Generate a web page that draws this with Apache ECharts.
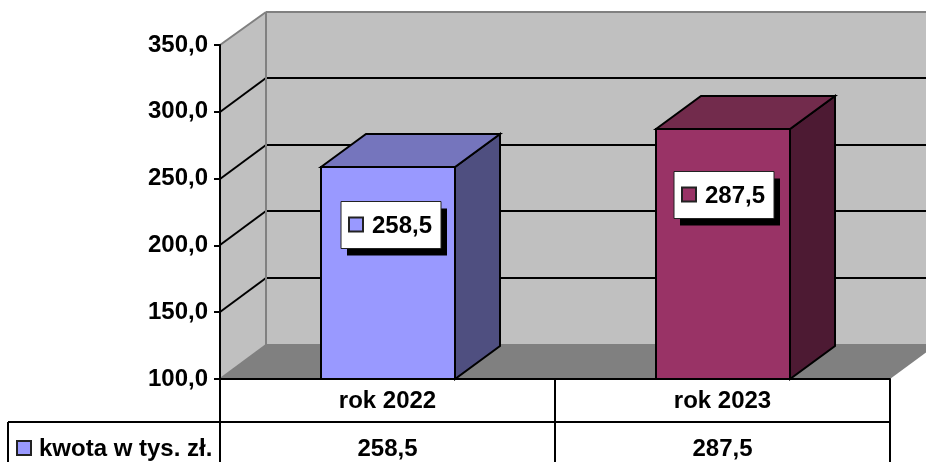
<!DOCTYPE html>
<html>
<head>
<meta charset="utf-8">
<style>html,body{margin:0;padding:0;background:#fff;overflow:hidden}#c{width:926px;height:462px}</style>
<script src="https://cdn.jsdelivr.net/npm/echarts@6/dist/echarts.min.js"></script>
</head>
<body>
<div id="c"></div>
<script>
var categories = ['rok 2022', 'rok 2023'];
var seriesName = 'kwota w tys. zł.';
var values = [258.5, 287.5];
var valueTicks = [100, 150, 200, 250, 300, 350];

var frontColors = ['#9999FF', '#993366'];
var topColors = ['#7575BD', '#722B4C'];
var sideColors = ['#4F4F80', '#4D1A33'];
var labelShiftX = [3, 1];
var labelShiftY = [1, -1];

var FONT = '"Liberation Sans", Arial, sans-serif';
var FS = 24;
var DX = 46, DY = 33, DYF = 34;
var BAR_W = 134;
var fmt = function (v) { return v.toFixed(1).replace('.', ','); };
var chart = echarts.init(document.getElementById('c'), null, { renderer: 'canvas' });

function poly(points, fill, stroke, w) {
  return { type: 'polygon', shape: { points: points }, style: { fill: fill, stroke: stroke || null, lineWidth: w || 0, lineJoin: 'miter' } };
}
function line(x1, y1, x2, y2, stroke, w) {
  return { type: 'line', shape: { x1: x1, y1: y1, x2: x2, y2: y2 }, style: { stroke: stroke, lineWidth: w, fill: null } };
}
function rect(x, y, w, h, fill, stroke, lw) {
  return { type: 'rect', shape: { x: x, y: y, width: w, height: h }, style: { fill: fill, stroke: stroke || null, lineWidth: lw || 0 } };
}
function text(x, y, s, align) {
  return { type: 'text', x: x, y: y, style: { text: s, fill: '#000', font: 'bold ' + FS + 'px ' + FONT, align: align, verticalAlign: 'middle' } };
}

function renderFrame(params, api) {
  var cs = params.coordSys;
  var L = cs.x, R = cs.x + cs.width, T = cs.y, B = cs.y + cs.height;
  var gray = '#808080', wall = '#C0C0C0';
  var kids = [
    poly([[L + DX, T - DY], [R + DX, T - DY], [R + DX, B - DYF], [L + DX, B - DYF]], wall),
    poly([[L, T], [L + DX, T - DY], [L + DX, B - DYF], [L, B]], wall),
    poly([[L, B], [L + DX, B - DYF], [R + DX, B - DYF], [R, B]], gray)
  ];
  valueTicks.forEach(function (t) {
    if (t === valueTicks[0] || t === valueTicks[valueTicks.length - 1]) return;
    var y = Math.round(api.coord([0, t])[1]);
    kids.push(line(L, y, L + DX, y - DYF, '#000', 2));
    kids.push(line(L + DX, y - DYF, R + DX, y - DYF, '#000', 2));
  });
  kids.push(line(L, T, L + DX, T - DY, gray, 2));
  kids.push(line(L + DX, T - DY, R + DX, T - DY, gray, 2));
  kids.push(line(L + DX, T - DY, L + DX, B - DYF, gray, 2));
  kids.push(line(L, B, L + DX, B - DYF, gray, 2));
  kids.push(line(L + DX, B - DYF, R + DX, B - DYF, gray, 2));
  return { type: 'group', children: kids };
}

function renderBar(params, api) {
  var i = api.value(0), v = api.value(1);
  var c = api.coord([i, v]), b = api.coord([i, valueTicks[0]]);
  var x0 = Math.round(c[0] - BAR_W / 2), x1 = x0 + BAR_W;
  var yt = Math.round(c[1]), yb = Math.round(b[1]);
  var dx = DX - 1;
  var kids = [
    poly([[x1, yt], [x1 + dx, yt - DY], [x1 + dx, yb - DY], [x1, yb]], sideColors[i], '#000', 2),
    poly([[x0, yt], [x0 + dx, yt - DY], [x1 + dx, yt - DY], [x1, yt]], topColors[i], '#000', 2),
    rect(x0, yt, BAR_W, yb - yt, frontColors[i], '#000', 2)
  ];
  return { type: 'group', children: kids };
}

function renderLabel(params, api) {
  var i = api.value(0), v = api.value(1);
  var base = valueTicks[0];
  var p = api.coord([i, base + (v - base) * 0.73]);
  var cx = Math.round(p[0]) + labelShiftX[i], cy = Math.round(p[1]) + labelShiftY[i];
  var bw = 100, bh = 47, x = cx - bw / 2, y = cy - bh / 2;
  return { type: 'group', children: [
    rect(x + 6, y + 7, bw, bh, '#000'),
    rect(x, y, bw, bh, '#fff', '#222', 1),
    rect(x + 8, y + 16, 14, 14, frontColors[i], '#222', 2),
    text(x + 31, cy + 1, fmt(v), 'left')
  ] };
}

function renderTable(params, api) {
  var cs = params.coordSys;
  var B = cs.y + cs.height, R = cs.x + cs.width;
  var rowY = B + 43, midY = B + 69;
  var kids = [
    line(8, rowY, R, rowY, '#000', 2),
    line(8, rowY, 8, 462, '#000', 2),
    rect(17, midY - 7, 14, 14, frontColors[0], '#222', 2),
    text(39, midY + 1, seriesName, 'left')
  ];
  values.forEach(function (v, i) {
    kids.push(text(api.coord([i, valueTicks[0]])[0], midY + 1, fmt(v), 'center'));
  });
  return { type: 'group', children: kids };
}

var barData = values.map(function (v, i) { return [i, v]; });

chart.setOption({
  animation: false,
  grid: { left: 220, right: 36, top: 45, bottom: 83, containLabel: false },
  xAxis: {
    type: 'category', data: categories, z: 5,
    axisLine: { show: true, lineStyle: { color: '#000', width: 2 } },
    axisTick: { show: true, length: 83, alignWithLabel: false, lineStyle: { color: '#000', width: 2 } },
    axisLabel: { margin: 10, color: '#000', fontFamily: FONT, fontWeight: 'bold', fontSize: FS },
    splitLine: { show: false }
  },
  yAxis: {
    type: 'value', min: valueTicks[0], max: valueTicks[valueTicks.length - 1], interval: 50, z: 5,
    axisLine: { show: true, lineStyle: { color: '#000', width: 2 } },
    axisTick: { show: true, length: 6, lineStyle: { color: '#000', width: 2 } },
    axisLabel: { margin: 12, color: '#000', fontFamily: FONT, fontWeight: 'bold', fontSize: FS, formatter: fmt },
    splitLine: { show: false }
  },
  series: [
    { type: 'custom', name: 'frame', z: 1, silent: true, clip: false, renderItem: renderFrame, data: [[0, valueTicks[0]]] },
    { type: 'custom', name: seriesName, z: 2, silent: true, clip: false, renderItem: renderBar, data: barData },
    { type: 'custom', name: 'labels', z: 6, silent: true, clip: false, renderItem: renderLabel, data: barData },
    { type: 'custom', name: 'table', z: 6, silent: true, clip: false, renderItem: renderTable, data: [[0, valueTicks[0]]] }
  ]
});
</script>
</body>
</html>
